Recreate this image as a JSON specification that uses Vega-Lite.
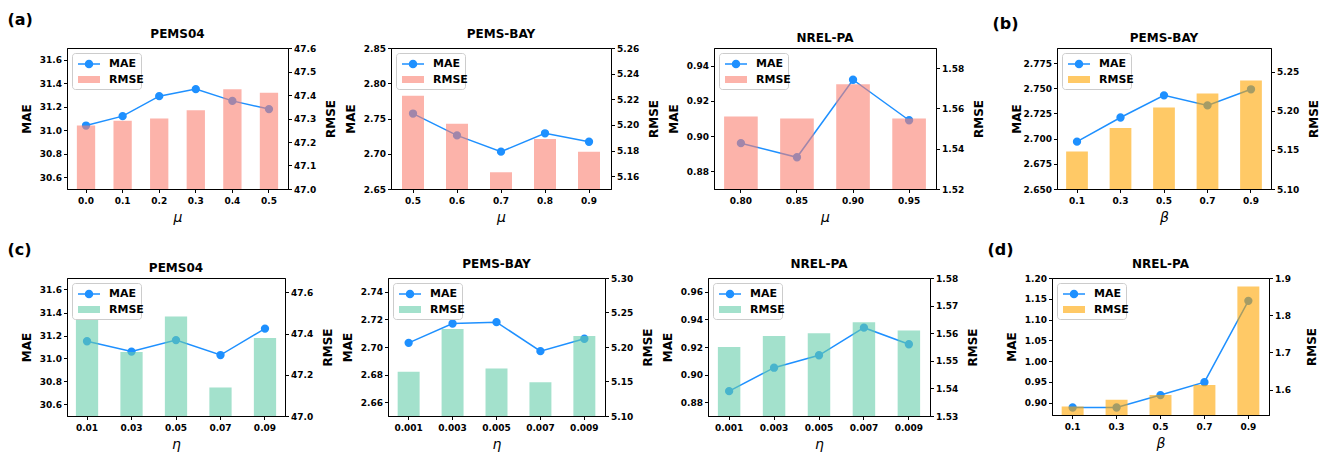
{
  "$schema": "https://vega.github.io/schema/vega-lite/v6.json",
  "padding": {"left": 7, "top": 11, "right": 2, "bottom": 2},
  "background": "white",
  "spacing": 16,
  "resolve": {"scale": {"fill": "independent", "stroke": "independent"}},
  "vconcat": [
    {
      "spacing": 7,
      "resolve": {"scale": {"fill": "independent", "stroke": "independent"}},
      "hconcat": [
        {
          "title": {"text": "(a)", "fontSize": 16, "anchor": "start", "dx": -12, "offset": 0},
          "spacing": 6,
          "resolve": {"scale": {"fill": "independent", "stroke": "independent"}},
          "hconcat": [
            {
              "title": "PEMS04",
              "width": 221, "height": 141,
              "data": {"values": [
                {"x": "0.0", "mae": 31.04, "rmse": 47.27},
                {"x": "0.1", "mae": 31.12, "rmse": 47.29},
                {"x": "0.2", "mae": 31.29, "rmse": 47.30},
                {"x": "0.3", "mae": 31.35, "rmse": 47.335},
                {"x": "0.4", "mae": 31.25, "rmse": 47.425},
                {"x": "0.5", "mae": 31.18, "rmse": 47.41}
              ]},
              "layer": [
                {
                  "mark": {"type": "line", "strokeWidth": 1.5, "point": {"filled": true, "size": 40, "fill": "#1E90FF"}},
                  "encoding": {
                    "x": {"field": "x", "type": "ordinal", "sort": null, "scale": {"paddingInner": 0.5, "paddingOuter": 0.27}, "axis": {"title": "μ"}},
                    "y": {"field": "mae", "type": "quantitative", "scale": {"domain": [30.5, 31.7], "zero": false, "nice": false}, "axis": {"title": "MAE", "values": [30.6, 30.8, 31.0, 31.2, 31.4, 31.6], "format": ".1f"}},
                    "stroke": {"datum": "MAE", "type": "nominal", "scale": {"range": ["#1E90FF"]}, "legend": {"title": "                 ", "titleOrient": "bottom", "titlePadding": 2, "titleFontSize": 11, "padding": 5, "strokeColor": "#cccccc", "cornerRadius": 3, "orient": "none", "legendX": 5, "legendY": 5, "symbolType": "M-1,0H3.4M0.5,0A0.7,0.7,0,1,0,1.9,0A0.7,0.7,0,1,0,0.5,0Z", "symbolFillColor": "#1E90FF", "symbolStrokeWidth": 1.5}}
                  }
                },
                {
                  "mark": {"type": "bar", "opacity": 0.6, "clip": true},
                  "encoding": {
                    "x": {"field": "x", "type": "ordinal", "sort": null},
                    "y": {"field": "rmse", "type": "quantitative", "scale": {"domain": [47.0, 47.6], "zero": false, "nice": false}, "axis": {"title": "RMSE", "orient": "right", "values": [47.0, 47.1, 47.2, 47.3, 47.4, 47.5, 47.6], "format": ".1f"}},
                    "fill": {"datum": "RMSE", "type": "nominal", "scale": {"range": ["#FA8072"]}, "legend": {"title": null, "padding": 0, "orient": "none", "legendX": 10, "legendY": 25.5, "symbolType": "M-1,-0.7H3.4V0.7H-1Z"}}
                  }
                }
              ],
              "resolve": {"scale": {"y": "independent"}}
            },
            {
              "title": "PEMS-BAY",
              "width": 220, "height": 141,
              "data": {"values": [
                {"x": "0.5", "mae": 2.757, "rmse": 5.2227},
                {"x": "0.6", "mae": 2.726, "rmse": 5.201},
                {"x": "0.7", "mae": 2.703, "rmse": 5.163},
                {"x": "0.8", "mae": 2.729, "rmse": 5.189},
                {"x": "0.9", "mae": 2.717, "rmse": 5.179}
              ]},
              "layer": [
                {
                  "mark": {"type": "line", "strokeWidth": 1.5, "point": {"filled": true, "size": 40, "fill": "#1E90FF"}},
                  "encoding": {
                    "x": {"field": "x", "type": "ordinal", "sort": null, "scale": {"paddingInner": 0.5, "paddingOuter": 0.25}, "axis": {"title": "μ"}},
                    "y": {"field": "mae", "type": "quantitative", "scale": {"domain": [2.65, 2.85], "zero": false, "nice": false}, "axis": {"title": "MAE", "values": [2.65, 2.70, 2.75, 2.80, 2.85], "format": ".2f"}},
                    "stroke": {"datum": "MAE", "type": "nominal", "scale": {"range": ["#1E90FF"]}, "legend": {"title": "                 ", "titleOrient": "bottom", "titlePadding": 2, "titleFontSize": 11, "padding": 5, "strokeColor": "#cccccc", "cornerRadius": 3, "orient": "none", "legendX": 5, "legendY": 5, "symbolType": "M-1,0H3.4M0.5,0A0.7,0.7,0,1,0,1.9,0A0.7,0.7,0,1,0,0.5,0Z", "symbolFillColor": "#1E90FF", "symbolStrokeWidth": 1.5}}
                  }
                },
                {
                  "mark": {"type": "bar", "opacity": 0.6, "clip": true},
                  "encoding": {
                    "x": {"field": "x", "type": "ordinal", "sort": null},
                    "y": {"field": "rmse", "type": "quantitative", "scale": {"domain": [5.15, 5.26], "zero": false, "nice": false}, "axis": {"title": "RMSE", "orient": "right", "values": [5.16, 5.18, 5.20, 5.22, 5.24, 5.26], "format": ".2f"}},
                    "fill": {"datum": "RMSE", "type": "nominal", "scale": {"range": ["#FA8072"]}, "legend": {"title": null, "padding": 0, "orient": "none", "legendX": 10, "legendY": 25.5, "symbolType": "M-1,-0.7H3.4V0.7H-1Z"}}
                  }
                }
              ],
              "resolve": {"scale": {"y": "independent"}}
            },
            {
              "title": "NREL-PA",
              "width": 222, "height": 141,
              "data": {"values": [
                {"x": "0.80", "mae": 0.896, "rmse": 1.556},
                {"x": "0.85", "mae": 0.888, "rmse": 1.555},
                {"x": "0.90", "mae": 0.932, "rmse": 1.572},
                {"x": "0.95", "mae": 0.909, "rmse": 1.555}
              ]},
              "layer": [
                {
                  "mark": {"type": "line", "strokeWidth": 1.5, "point": {"filled": true, "size": 40, "fill": "#1E90FF"}},
                  "encoding": {
                    "x": {"field": "x", "type": "ordinal", "sort": null, "scale": {"paddingInner": 0.4, "paddingOuter": 0.18}, "axis": {"title": "μ"}},
                    "y": {"field": "mae", "type": "quantitative", "scale": {"domain": [0.87, 0.95], "zero": false, "nice": false}, "axis": {"title": "MAE", "values": [0.88, 0.90, 0.92, 0.94], "format": ".2f"}},
                    "stroke": {"datum": "MAE", "type": "nominal", "scale": {"range": ["#1E90FF"]}, "legend": {"title": "                 ", "titleOrient": "bottom", "titlePadding": 2, "titleFontSize": 11, "padding": 5, "strokeColor": "#cccccc", "cornerRadius": 3, "orient": "none", "legendX": 5, "legendY": 5, "symbolType": "M-1,0H3.4M0.5,0A0.7,0.7,0,1,0,1.9,0A0.7,0.7,0,1,0,0.5,0Z", "symbolFillColor": "#1E90FF", "symbolStrokeWidth": 1.5}}
                  }
                },
                {
                  "mark": {"type": "bar", "opacity": 0.6, "clip": true},
                  "encoding": {
                    "x": {"field": "x", "type": "ordinal", "sort": null},
                    "y": {"field": "rmse", "type": "quantitative", "scale": {"domain": [1.52, 1.59], "zero": false, "nice": false}, "axis": {"title": "RMSE", "orient": "right", "values": [1.52, 1.54, 1.56, 1.58], "format": ".2f"}},
                    "fill": {"datum": "RMSE", "type": "nominal", "scale": {"range": ["#FA8072"]}, "legend": {"title": null, "padding": 0, "orient": "none", "legendX": 10, "legendY": 25.5, "symbolType": "M-1,-0.7H3.4V0.7H-1Z"}}
                  }
                }
              ],
              "resolve": {"scale": {"y": "independent"}}
            }
          ]
        },
        {
          "title": {"text": "(b)", "fontSize": 16, "anchor": "start", "dx": -17, "offset": 0},
          "resolve": {"scale": {"fill": "independent", "stroke": "independent"}},
          "hconcat": [
            {
              "title": "PEMS-BAY",
              "width": 214, "height": 141,
              "data": {"values": [
                {"x": "0.1", "mae": 2.697, "rmse": 5.148},
                {"x": "0.3", "mae": 2.721, "rmse": 5.178},
                {"x": "0.5", "mae": 2.743, "rmse": 5.204},
                {"x": "0.7", "mae": 2.733, "rmse": 5.222},
                {"x": "0.9", "mae": 2.749, "rmse": 5.2385}
              ]},
              "layer": [
                {
                  "mark": {"type": "line", "strokeWidth": 1.5, "point": {"filled": true, "size": 40, "fill": "#1E90FF"}},
                  "encoding": {
                    "x": {"field": "x", "type": "ordinal", "sort": null, "scale": {"paddingInner": 0.5, "paddingOuter": 0.21}, "axis": {"title": "β"}},
                    "y": {"field": "mae", "type": "quantitative", "scale": {"domain": [2.65, 2.79], "zero": false, "nice": false}, "axis": {"title": "MAE", "values": [2.65, 2.675, 2.70, 2.725, 2.75, 2.775], "format": ".3f"}},
                    "stroke": {"datum": "MAE", "type": "nominal", "scale": {"range": ["#1E90FF"]}, "legend": {"title": "                 ", "titleOrient": "bottom", "titlePadding": 2, "titleFontSize": 11, "padding": 5, "strokeColor": "#cccccc", "cornerRadius": 3, "orient": "none", "legendX": 5, "legendY": 5, "symbolType": "M-1,0H3.4M0.5,0A0.7,0.7,0,1,0,1.9,0A0.7,0.7,0,1,0,0.5,0Z", "symbolFillColor": "#1E90FF", "symbolStrokeWidth": 1.5}}
                  }
                },
                {
                  "mark": {"type": "bar", "opacity": 0.6, "clip": true},
                  "encoding": {
                    "x": {"field": "x", "type": "ordinal", "sort": null},
                    "y": {"field": "rmse", "type": "quantitative", "scale": {"domain": [5.10, 5.28], "zero": false, "nice": false}, "axis": {"title": "RMSE", "orient": "right", "values": [5.10, 5.15, 5.20, 5.25], "format": ".2f"}},
                    "fill": {"datum": "RMSE", "type": "nominal", "scale": {"range": ["#FFA500"]}, "legend": {"title": null, "padding": 0, "orient": "none", "legendX": 10, "legendY": 25.5, "symbolType": "M-1,-0.7H3.4V0.7H-1Z"}}
                  }
                }
              ],
              "resolve": {"scale": {"y": "independent"}}
            }
          ]
        }
      ]
    },
    {
      "spacing": 8,
      "resolve": {"scale": {"fill": "independent", "stroke": "independent"}},
      "hconcat": [
        {
          "title": {"text": "(c)", "fontSize": 16, "anchor": "start", "dx": -12, "offset": 0},
          "spacing": 6,
          "resolve": {"scale": {"fill": "independent", "stroke": "independent"}},
          "hconcat": [
            {
              "title": "PEMS04",
              "width": 218, "height": 138,
              "data": {"values": [
                {"x": "0.01", "mae": 31.15, "rmse": 47.47},
                {"x": "0.03", "mae": 31.06, "rmse": 47.311},
                {"x": "0.05", "mae": 31.16, "rmse": 47.483},
                {"x": "0.07", "mae": 31.03, "rmse": 47.138},
                {"x": "0.09", "mae": 31.26, "rmse": 47.379}
              ]},
              "layer": [
                {
                  "mark": {"type": "line", "strokeWidth": 1.5, "point": {"filled": true, "size": 40, "fill": "#1E90FF"}},
                  "encoding": {
                    "x": {"field": "x", "type": "ordinal", "sort": null, "scale": {"paddingInner": 0.5, "paddingOuter": 0.2}, "axis": {"title": "η"}},
                    "y": {"field": "mae", "type": "quantitative", "scale": {"domain": [30.5, 31.7], "zero": false, "nice": false}, "axis": {"title": "MAE", "values": [30.6, 30.8, 31.0, 31.2, 31.4, 31.6], "format": ".1f"}},
                    "stroke": {"datum": "MAE", "type": "nominal", "scale": {"range": ["#1E90FF"]}, "legend": {"title": "                 ", "titleOrient": "bottom", "titlePadding": 2, "titleFontSize": 11, "padding": 5, "strokeColor": "#cccccc", "cornerRadius": 3, "orient": "none", "legendX": 5, "legendY": 5, "symbolType": "M-1,0H3.4M0.5,0A0.7,0.7,0,1,0,1.9,0A0.7,0.7,0,1,0,0.5,0Z", "symbolFillColor": "#1E90FF", "symbolStrokeWidth": 1.5}}
                  }
                },
                {
                  "mark": {"type": "bar", "opacity": 0.6, "clip": true},
                  "encoding": {
                    "x": {"field": "x", "type": "ordinal", "sort": null},
                    "y": {"field": "rmse", "type": "quantitative", "scale": {"domain": [47.0, 47.67], "zero": false, "nice": false}, "axis": {"title": "RMSE", "orient": "right", "values": [47.0, 47.2, 47.4, 47.6], "format": ".1f"}},
                    "fill": {"datum": "RMSE", "type": "nominal", "scale": {"range": ["#66CDAA"]}, "legend": {"title": null, "padding": 0, "orient": "none", "legendX": 10, "legendY": 25.5, "symbolType": "M-1,-0.7H3.4V0.7H-1Z"}}
                  }
                }
              ],
              "resolve": {"scale": {"y": "independent"}}
            },
            {
              "title": "PEMS-BAY",
              "width": 217, "height": 138,
              "data": {"values": [
                {"x": "0.001", "mae": 2.703, "rmse": 5.164},
                {"x": "0.003", "mae": 2.717, "rmse": 5.226},
                {"x": "0.005", "mae": 2.718, "rmse": 5.169},
                {"x": "0.007", "mae": 2.697, "rmse": 5.149},
                {"x": "0.009", "mae": 2.706, "rmse": 5.216}
              ]},
              "layer": [
                {
                  "mark": {"type": "line", "strokeWidth": 1.5, "point": {"filled": true, "size": 40, "fill": "#1E90FF"}},
                  "encoding": {
                    "x": {"field": "x", "type": "ordinal", "sort": null, "scale": {"paddingInner": 0.5, "paddingOuter": 0.22}, "axis": {"title": "η"}},
                    "y": {"field": "mae", "type": "quantitative", "scale": {"domain": [2.65, 2.75], "zero": false, "nice": false}, "axis": {"title": "MAE", "values": [2.66, 2.68, 2.70, 2.72, 2.74], "format": ".2f"}},
                    "stroke": {"datum": "MAE", "type": "nominal", "scale": {"range": ["#1E90FF"]}, "legend": {"title": "                 ", "titleOrient": "bottom", "titlePadding": 2, "titleFontSize": 11, "padding": 5, "strokeColor": "#cccccc", "cornerRadius": 3, "orient": "none", "legendX": 5, "legendY": 5, "symbolType": "M-1,0H3.4M0.5,0A0.7,0.7,0,1,0,1.9,0A0.7,0.7,0,1,0,0.5,0Z", "symbolFillColor": "#1E90FF", "symbolStrokeWidth": 1.5}}
                  }
                },
                {
                  "mark": {"type": "bar", "opacity": 0.6, "clip": true},
                  "encoding": {
                    "x": {"field": "x", "type": "ordinal", "sort": null},
                    "y": {"field": "rmse", "type": "quantitative", "scale": {"domain": [5.10, 5.30], "zero": false, "nice": false}, "axis": {"title": "RMSE", "orient": "right", "values": [5.10, 5.15, 5.20, 5.25, 5.30], "format": ".2f"}},
                    "fill": {"datum": "RMSE", "type": "nominal", "scale": {"range": ["#66CDAA"]}, "legend": {"title": null, "padding": 0, "orient": "none", "legendX": 10, "legendY": 25.5, "symbolType": "M-1,-0.7H3.4V0.7H-1Z"}}
                  }
                }
              ],
              "resolve": {"scale": {"y": "independent"}}
            },
            {
              "title": "NREL-PA",
              "width": 222, "height": 138,
              "data": {"values": [
                {"x": "0.001", "mae": 0.888, "rmse": 1.555},
                {"x": "0.003", "mae": 0.905, "rmse": 1.559},
                {"x": "0.005", "mae": 0.914, "rmse": 1.560},
                {"x": "0.007", "mae": 0.934, "rmse": 1.564},
                {"x": "0.009", "mae": 0.922, "rmse": 1.561}
              ]},
              "layer": [
                {
                  "mark": {"type": "line", "strokeWidth": 1.5, "point": {"filled": true, "size": 40, "fill": "#1E90FF"}},
                  "encoding": {
                    "x": {"field": "x", "type": "ordinal", "sort": null, "scale": {"paddingInner": 0.5, "paddingOuter": 0.22}, "axis": {"title": "η"}},
                    "y": {"field": "mae", "type": "quantitative", "scale": {"domain": [0.87, 0.97], "zero": false, "nice": false}, "axis": {"title": "MAE", "values": [0.88, 0.90, 0.92, 0.94, 0.96], "format": ".2f"}},
                    "stroke": {"datum": "MAE", "type": "nominal", "scale": {"range": ["#1E90FF"]}, "legend": {"title": "                 ", "titleOrient": "bottom", "titlePadding": 2, "titleFontSize": 11, "padding": 5, "strokeColor": "#cccccc", "cornerRadius": 3, "orient": "none", "legendX": 5, "legendY": 5, "symbolType": "M-1,0H3.4M0.5,0A0.7,0.7,0,1,0,1.9,0A0.7,0.7,0,1,0,0.5,0Z", "symbolFillColor": "#1E90FF", "symbolStrokeWidth": 1.5}}
                  }
                },
                {
                  "mark": {"type": "bar", "opacity": 0.6, "clip": true},
                  "encoding": {
                    "x": {"field": "x", "type": "ordinal", "sort": null},
                    "y": {"field": "rmse", "type": "quantitative", "scale": {"domain": [1.53, 1.58], "zero": false, "nice": false}, "axis": {"title": "RMSE", "orient": "right", "values": [1.53, 1.54, 1.55, 1.56, 1.57, 1.58], "format": ".2f"}},
                    "fill": {"datum": "RMSE", "type": "nominal", "scale": {"range": ["#66CDAA"]}, "legend": {"title": null, "padding": 0, "orient": "none", "legendX": 10, "legendY": 25.5, "symbolType": "M-1,-0.7H3.4V0.7H-1Z"}}
                  }
                }
              ],
              "resolve": {"scale": {"y": "independent"}}
            }
          ]
        },
        {
          "title": {"text": "(d)", "fontSize": 16, "anchor": "start", "dx": -17, "offset": 0},
          "resolve": {"scale": {"fill": "independent", "stroke": "independent"}},
          "hconcat": [
            {
              "title": "NREL-PA",
              "width": 217, "height": 137,
              "data": {"values": [
                {"x": "0.1", "mae": 0.888, "rmse": 1.5545},
                {"x": "0.3", "mae": 0.888, "rmse": 1.5727},
                {"x": "0.5", "mae": 0.918, "rmse": 1.5855},
                {"x": "0.7", "mae": 0.949, "rmse": 1.6127},
                {"x": "0.9", "mae": 1.145, "rmse": 1.877}
              ]},
              "layer": [
                {
                  "mark": {"type": "line", "strokeWidth": 1.5, "point": {"filled": true, "size": 40, "fill": "#1E90FF"}},
                  "encoding": {
                    "x": {"field": "x", "type": "ordinal", "sort": null, "scale": {"paddingInner": 0.5, "paddingOuter": 0.22}, "axis": {"title": "β"}},
                    "y": {"field": "mae", "type": "quantitative", "scale": {"domain": [0.87, 1.20], "zero": false, "nice": false}, "axis": {"title": "MAE", "values": [0.90, 0.95, 1.00, 1.05, 1.10, 1.15, 1.20], "format": ".2f"}},
                    "stroke": {"datum": "MAE", "type": "nominal", "scale": {"range": ["#1E90FF"]}, "legend": {"title": "                 ", "titleOrient": "bottom", "titlePadding": 2, "titleFontSize": 11, "padding": 5, "strokeColor": "#cccccc", "cornerRadius": 3, "orient": "none", "legendX": 5, "legendY": 5, "symbolType": "M-1,0H3.4M0.5,0A0.7,0.7,0,1,0,1.9,0A0.7,0.7,0,1,0,0.5,0Z", "symbolFillColor": "#1E90FF", "symbolStrokeWidth": 1.5}}
                  }
                },
                {
                  "mark": {"type": "bar", "opacity": 0.6, "clip": true},
                  "encoding": {
                    "x": {"field": "x", "type": "ordinal", "sort": null},
                    "y": {"field": "rmse", "type": "quantitative", "scale": {"domain": [1.532, 1.90], "zero": false, "nice": false}, "axis": {"title": "RMSE", "orient": "right", "values": [1.6, 1.7, 1.8, 1.9], "format": ".1f"}},
                    "fill": {"datum": "RMSE", "type": "nominal", "scale": {"range": ["#FFA500"]}, "legend": {"title": null, "padding": 0, "orient": "none", "legendX": 10, "legendY": 25.5, "symbolType": "M-1,-0.7H3.4V0.7H-1Z"}}
                  }
                }
              ],
              "resolve": {"scale": {"y": "independent"}}
            }
          ]
        }
      ]
    }
  ],
  "config": {
    "font": "DejaVu Sans",
    "view": {"stroke": "black", "strokeWidth": 1},
    "axis": {"labelFont": "DejaVu Sans", "labelFontWeight": "bold", "labelFontSize": 9, "labelColor": "black", "titleFont": "DejaVu Sans", "titleFontWeight": "bold", "titleFontSize": 12, "titleColor": "black", "domainColor": "black", "tickColor": "black", "tickSize": 3.5, "labelPadding": 2, "grid": false},
    "axisX": {"labelAngle": 0, "labelPadding": 4, "titleFontStyle": "italic", "titleFontWeight": "normal", "titleFontSize": 14, "titlePadding": 5},
    "axisLeft": {"minExtent": 30, "maxExtent": 30, "titlePadding": 4},
    "axisRight": {"minExtent": 33, "maxExtent": 33, "titlePadding": 4, "titleAngle": 270, "titleBaseline": "top"},
    "title": {"font": "DejaVu Sans", "fontWeight": "bold", "fontSize": 12, "color": "black", "offset": 3},
    "legend": {"labelFont": "DejaVu Sans", "labelFontWeight": "bold", "labelFontSize": 11, "labelColor": "black", "labelOffset": 20, "symbolSize": 100, "rowPadding": 5, "titleFont": "DejaVu Sans"}
  }
}
